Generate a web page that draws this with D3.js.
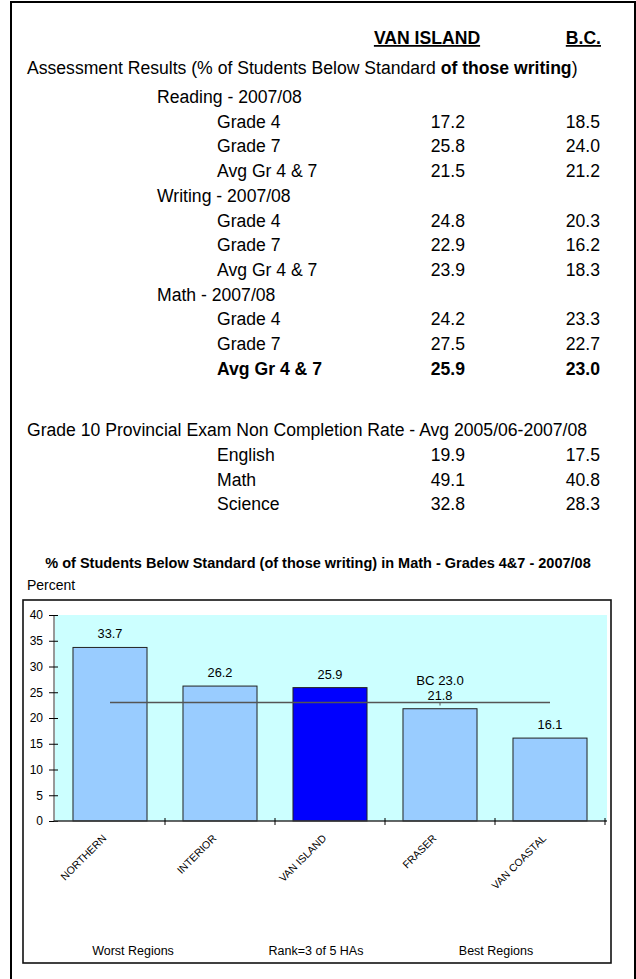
<!DOCTYPE html>
<html><head><meta charset="utf-8">
<script src="https://cdn.jsdelivr.net/npm/d3@7"></script>
<style>
html,body{margin:0;padding:0;background:#fff;}
svg{display:block;font-family:Arial,"Liberation Sans",sans-serif;}
</style></head>
<body><svg id="c" width="636" height="979"></svg>
<script>
// ---- data ----
const colHeaders = ["VAN ISLAND", "B.C."];
const sections = ["Reading - 2007/08", "Writing - 2007/08", "Math - 2007/08"];
const gradeRows = ["Grade 4", "Grade 7", "Avg Gr 4 & 7"];
const vanIslandAssess = [17.2, 25.8, 21.5, 24.8, 22.9, 23.9, 24.2, 27.5, 25.9];
const bcAssess = [18.5, 24.0, 21.2, 20.3, 16.2, 18.3, 23.3, 22.7, 23.0];
const examSubjects = ["English", "Math", "Science"];
const vanIslandExam = [19.9, 49.1, 32.8];
const bcExam = [17.5, 40.8, 28.3];
const regions = ["NORTHERN", "INTERIOR", "VAN ISLAND", "FRASER", "VAN COASTAL"];
const mathValues = [33.7, 26.2, 25.9, 21.8, 16.1];
const bcAverage = 23.0;
const yTicks = [0, 5, 10, 15, 20, 25, 30, 35, 40];
const footerLabels = ["Worst Regions", "Rank=3 of 5 HAs", "Best Regions"];

const svg = d3.select("#c");
svg.append("rect").attr("width",636).attr("height",979).attr("fill","#fff");

// outer frame (no bottom edge visible)
svg.append("path").attr("d","M11,990 L11,2 L635,2 L635,990")
  .attr("fill","none").attr("stroke","#000").attr("stroke-width",2);

const FS = 17.6;
const colVI = 465, colBC = 600;
// header
const hdr = svg.append("g").attr("font-weight","bold").attr("font-size",FS);
hdr.append("text").attr("x",427).attr("y",44).attr("text-anchor","middle")
  .attr("text-decoration","underline").text(colHeaders[0]);
hdr.append("text").attr("x",colBC+1).attr("y",44).attr("text-anchor","end")
  .attr("text-decoration","underline").text(colHeaders[1]);

const t1 = svg.append("text").attr("x",27).attr("y",74).attr("font-size",FS);
t1.append("tspan").text("Assessment Results (% of Students Below Standard ");
t1.append("tspan").attr("font-weight","bold").text("of those writing");
t1.append("tspan").text(")");

const rowStep = 24.7;
let y = 103;
sections.forEach((s, si) => {
  svg.append("text").attr("x",157).attr("y",y).attr("font-size",FS).text(s);
  y += rowStep;
  gradeRows.forEach((g, gi) => {
    const idx = si*3+gi;
    const bold = (si===2 && gi===2) ? "bold" : "normal";
    const gg = svg.append("g").attr("font-size",FS).attr("font-weight",bold);
    gg.append("text").attr("x",217).attr("y",y).text(g);
    gg.append("text").attr("x",colVI).attr("y",y).attr("text-anchor","end").text(vanIslandAssess[idx].toFixed(1));
    gg.append("text").attr("x",colBC).attr("y",y).attr("text-anchor","end").text(bcAssess[idx].toFixed(1));
    y += rowStep;
  });
});
svg.append("text").attr("x",27).attr("y",436).attr("font-size",FS)
  .text("Grade 10 Provincial Exam Non Completion Rate - Avg 2005/06-2007/08");
examSubjects.forEach((s,i)=>{
  const yy = 461 + i*rowStep;
  svg.append("text").attr("x",217).attr("y",yy).attr("font-size",FS).text(s);
  svg.append("text").attr("x",colVI).attr("y",yy).attr("font-size",FS).attr("text-anchor","end").text(vanIslandExam[i].toFixed(1));
  svg.append("text").attr("x",colBC).attr("y",yy).attr("font-size",FS).attr("text-anchor","end").text(bcExam[i].toFixed(1));
});

// chart title
svg.append("text").attr("x",318).attr("y",568).attr("text-anchor","middle")
  .attr("font-size",14.5).attr("font-weight","bold")
  .text("% of Students Below Standard (of those writing) in Math - Grades 4&7 - 2007/08");
svg.append("text").attr("x",27).attr("y",590).attr("font-size",14).text("Percent");

// inner box
svg.append("rect").attr("x",23).attr("y",600).attr("width",588).attr("height",363)
  .attr("fill","#fff").attr("stroke","#111").attr("stroke-width",1.6);

// scales
const x = d3.scaleBand().domain(regions).range([55,605]).paddingInner(0.327).paddingOuter(0.1635);
const yS = d3.scaleLinear().domain([0,40]).range([821,615]);

// plot bg
svg.append("rect").attr("x",55).attr("y",yS(40)).attr("width",552).attr("height",yS(0)-yS(40))
  .attr("fill","#CCFFFF");

// bars
svg.selectAll("rect.bar").data(mathValues).enter().append("rect").attr("class","bar")
  .attr("x",(d,i)=>x(regions[i])).attr("width",x.bandwidth())
  .attr("y",d=>yS(d)).attr("height",d=>yS(0)-yS(d))
  .attr("fill",(d,i)=>regions[i]==="VAN ISLAND" ? "#0000FF" : "#99CCFF")
  .attr("stroke","#222").attr("stroke-width",1);

// BC average line
const cx = r => x(r)+x.bandwidth()/2;
svg.append("line").attr("x1",cx(regions[0])).attr("x2",cx(regions[regions.length-1]))
  .attr("y1",yS(bcAverage)).attr("y2",yS(bcAverage)).attr("stroke","#555").attr("stroke-width",1.5);
svg.append("line").attr("x1",cx("FRASER")).attr("x2",cx("FRASER"))
  .attr("y1",yS(bcAverage)).attr("y2",yS(bcAverage)+3).attr("stroke","#555").attr("stroke-width",1);

// value labels
svg.selectAll("text.val").data(mathValues).enter().append("text").attr("class","val")
  .attr("x",(d,i)=>cx(regions[i])).attr("y",d=>yS(d)-9).attr("text-anchor","middle")
  .attr("font-size",12.8).text(d=>d.toFixed(1));
svg.append("text").attr("x",cx("FRASER")).attr("y",684.5).attr("text-anchor","middle")
  .attr("font-size",13.2).text("BC " + bcAverage.toFixed(1));

// y axis
const yAxis = svg.append("g").attr("transform","translate(54,0)")
  .call(d3.axisLeft(yS).tickValues(yTicks).tickSize(5).tickPadding(6).tickFormat(d3.format("d")));
yAxis.selectAll(".tick line").attr("x1",4).attr("stroke","#000");
yAxis.select(".domain").attr("stroke","#333").attr("d","M0,"+yS(40)+"V"+yS(0));
yAxis.selectAll("text").attr("font-size",12).attr("font-family","Arial,'Liberation Sans',sans-serif").attr("fill","#000");

// x axis
const xAxisG = svg.append("g").attr("transform","translate(0,"+yS(0)+")");
xAxisG.append("line").attr("x1",54).attr("x2",607).attr("stroke","#333").attr("stroke-width",1.5);
const bounds = regions.map(r=>x(r)-x.step()*x.paddingInner()/2).slice(1).concat([605]);
xAxisG.selectAll("line.tk").data(bounds).enter().append("line").attr("class","tk")
  .attr("x1",d=>d).attr("x2",d=>d).attr("y1",-3).attr("y2",4).attr("stroke","#000");
xAxisG.selectAll("text.xl").data(regions).enter().append("text").attr("class","xl")
  .attr("transform",d=>"translate("+(cx(d)-3)+",18) rotate(-45)")
  .attr("text-anchor","end").attr("font-size",10.5).text(d=>d);

// footer
const footX = [133, 316, 496];
footerLabels.forEach((t,i)=>{
  svg.append("text").attr("x",footX[i]).attr("y",955).attr("text-anchor","middle")
    .attr("font-size",12.5).text(t);
});
</script></body></html>
